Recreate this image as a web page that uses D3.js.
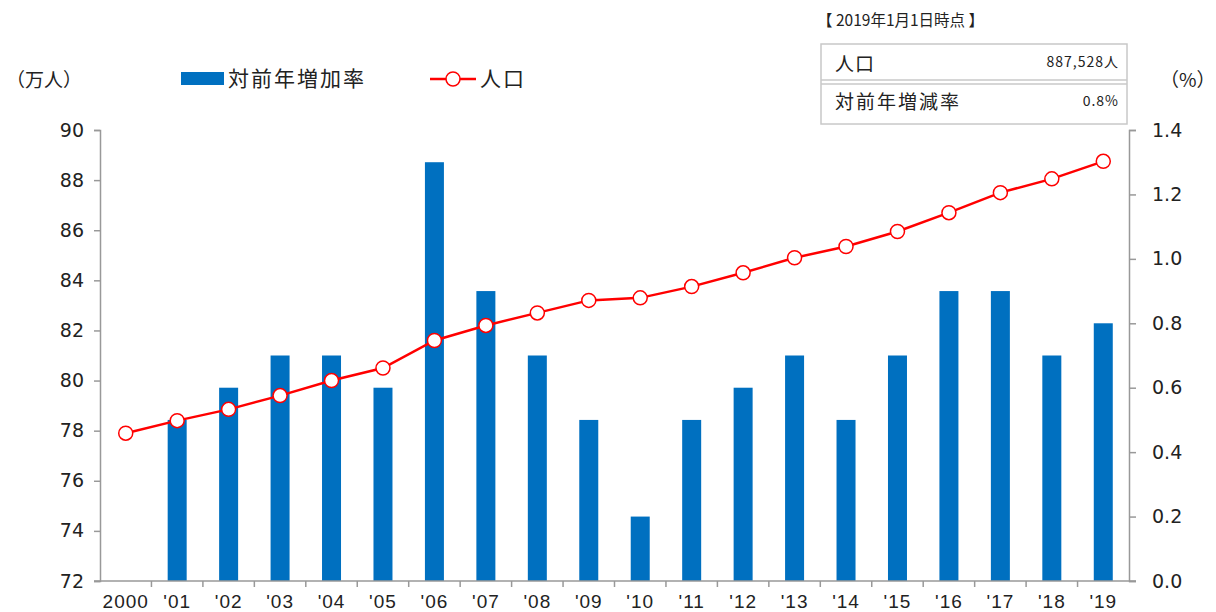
<!DOCTYPE html>
<html>
<head>
<meta charset="utf-8">
<script src="https://cdn.jsdelivr.net/npm/d3@7"></script>
<style>
  body { margin: 0; background: #fff; }
  text { fill: #222; }
  .jp { font-family: "Noto Sans CJK JP", sans-serif; }
  .num { font-family: "DejaVu Sans", sans-serif; }
  .narrow { font-family: "Liberation Sans Narrow", "Liberation Sans", sans-serif; }
</style>
</head>
<body>
<div id="chart"></div>
<script>
// data
var years = ["2000", "'01", "'02", "'03", "'04", "'05", "'06", "'07", "'08", "'09",
             "'10", "'11", "'12", "'13", "'14", "'15", "'16", "'17", "'18", "'19"];
var population = [77.9, 78.4, 78.85, 79.4, 80.0, 80.5, 81.6, 82.2, 82.7, 83.2,
                  83.3, 83.75, 84.3, 84.9, 85.35, 85.95, 86.7, 87.5, 88.05, 88.75];
var growthRate = [null, 0.5, 0.6, 0.7, 0.7, 0.6, 1.3, 0.9, 0.7, 0.5,
                  0.2, 0.5, 0.6, 0.7, 0.5, 0.7, 0.9, 0.9, 0.7, 0.8];
var leftTicks = [72, 74, 76, 78, 80, 82, 84, 86, 88, 90];
var rightTicks = [0, 0.2, 0.4, 0.6, 0.8, 1.0, 1.2, 1.4];

var width = 1216, height = 612;
var plotLeft = 100, plotRight = 1129, plotTop = 130, plotBottom = 581;

var svg = d3.select("#chart").append("svg")
    .attr("width", width)
    .attr("height", height);

var x = d3.scaleBand().domain(years).range([plotLeft, plotRight]);
var yL = d3.scaleLinear().domain([72, 90]).range([plotBottom, plotTop]);
var yR = d3.scaleLinear().domain([0, 1.4]).range([plotBottom, plotTop]);

var axisColor = "#999";

// bars
svg.selectAll(".bar")
    .data(years.map(function(y, i){ return {year: y, v: growthRate[i]}; })
        .filter(function(d){ return d.v != null; }))
    .enter().append("rect")
    .attr("class", "bar")
    .attr("x", function(d){ return x(d.year) + x.bandwidth()/2 - 9.5; })
    .attr("width", 19)
    .attr("y", function(d){ return yR(d.v); })
    .attr("height", function(d){ return plotBottom - yR(d.v); })
    .attr("fill", "#0070c0");

// left axis
var gL = svg.append("g").attr("transform", "translate(" + plotLeft + ",0)")
    .call(d3.axisLeft(yL).tickValues(leftTicks).tickSize(6).tickPadding(10).tickFormat(d3.format("d")));
// right axis
var gR = svg.append("g").attr("transform", "translate(" + plotRight + ",0)")
    .call(d3.axisRight(yR).tickValues(rightTicks).tickSize(7).tickPadding(16).tickFormat(d3.format(".1f")));
// bottom axis
var gB = svg.append("g").attr("transform", "translate(0," + plotBottom + ")")
    .call(d3.axisBottom(x).tickSize(0).tickPadding(14));

[gL, gR, gB].forEach(function(g){
    g.select(".domain").attr("stroke", axisColor).attr("stroke-width", 1.5);
    g.selectAll(".tick line").attr("stroke", axisColor).attr("stroke-width", 1.5);
});
gB.select(".domain").remove();
gL.selectAll("text").attr("class", "num").style("font-size", "19px").attr("fill", "#222");
gR.selectAll("text").attr("class", "num").style("font-size", "19px").attr("fill", "#222");
gB.selectAll("text").attr("class", "narrow").style("font-size", "19px").style("letter-spacing", "1px").attr("fill", "#222");

// category separator ticks on the x axis
svg.append("g").selectAll("line")
    .data(years.slice(1))
    .enter().append("line")
    .attr("x1", function(d){ return x(d); })
    .attr("x2", function(d){ return x(d); })
    .attr("y1", plotBottom).attr("y2", plotBottom + 6)
    .attr("stroke", axisColor).attr("stroke-width", 1.5);
svg.append("line")
    .attr("x1", plotLeft - 6).attr("x2", plotRight + 7)
    .attr("y1", plotBottom).attr("y2", plotBottom)
    .attr("stroke", axisColor).attr("stroke-width", 1.5);

// population line
var line = d3.line()
    .x(function(d, i){ return x(years[i]) + x.bandwidth()/2; })
    .y(function(d){ return yL(d); });

svg.append("path")
    .datum(population)
    .attr("d", line)
    .attr("fill", "none")
    .attr("stroke", "#ff0000")
    .attr("stroke-width", 2.5);

svg.selectAll(".dot")
    .data(population)
    .enter().append("circle")
    .attr("class", "dot")
    .attr("cx", function(d, i){ return x(years[i]) + x.bandwidth()/2; })
    .attr("cy", function(d){ return yL(d); })
    .attr("r", 7)
    .attr("fill", "#fff")
    .attr("stroke", "#ff0000")
    .attr("stroke-width", 1.5);

// unit labels
svg.append("text").attr("class", "jp").attr("x", 6).attr("y", 87)
    .style("font-size", "19px").text("（万人）");
svg.append("text").attr("class", "jp").attr("x", 1160).attr("y", 87)
    .style("font-size", "19px").text("（%）");

// legend
svg.append("rect").attr("x", 181).attr("y", 72).attr("width", 43).attr("height", 13).attr("fill", "#0070c0");
svg.append("text").attr("class", "jp").attr("x", 228).attr("y", 86)
    .style("font-size", "21px").style("letter-spacing", "2px").text("対前年増加率");
svg.append("line").attr("x1", 430).attr("x2", 476).attr("y1", 79).attr("y2", 79)
    .attr("stroke", "#ff0000").attr("stroke-width", 2.5);
svg.append("circle").attr("cx", 453).attr("cy", 79).attr("r", 7)
    .attr("fill", "#fff").attr("stroke", "#ff0000").attr("stroke-width", 1.5);
svg.append("text").attr("class", "jp").attr("x", 480).attr("y", 86)
    .style("font-size", "21px").style("letter-spacing", "2px").text("人口");

// info box
svg.append("text").attr("class", "jp").attr("x", 817).attr("y", 26)
    .style("font-size", "15.5px").text("【 2019年1月1日時点 】");
svg.append("rect").attr("x", 821).attr("y", 44).attr("width", 306).attr("height", 80)
    .attr("fill", "#fff").attr("stroke", "#c8c8c8").attr("stroke-width", 1.5);
svg.append("line").attr("x1", 821).attr("x2", 1127).attr("y1", 80).attr("y2", 80)
    .attr("stroke", "#c8c8c8").attr("stroke-width", 1.5);
svg.append("line").attr("x1", 821).attr("x2", 1127).attr("y1", 84).attr("y2", 84)
    .attr("stroke", "#c8c8c8").attr("stroke-width", 1.5);
svg.append("text").attr("class", "jp").attr("x", 835).attr("y", 71)
    .style("font-size", "19px").style("letter-spacing", "1px").text("人口");
svg.append("text").attr("class", "jp").attr("x", 1119).attr("y", 67)
    .attr("text-anchor", "end").style("font-size", "14px").style("letter-spacing", "1px").text("887,528人");
svg.append("text").attr("class", "jp").attr("x", 835).attr("y", 109)
    .style("font-size", "19px").style("letter-spacing", "2px").text("対前年増減率");
svg.append("text").attr("class", "jp").attr("x", 1119).attr("y", 106)
    .attr("text-anchor", "end").style("font-size", "14px").style("letter-spacing", "1px").text("0.8%");
</script>
</body>
</html>
